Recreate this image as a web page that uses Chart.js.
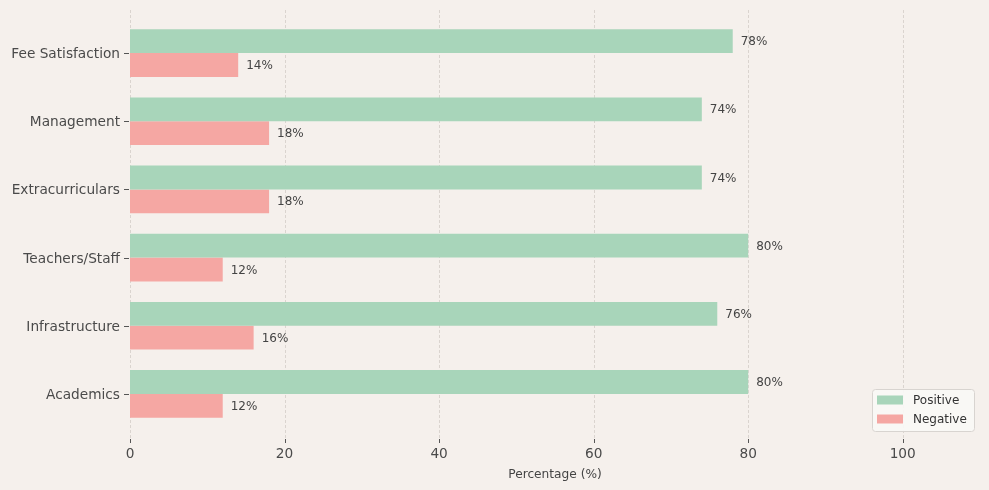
<!DOCTYPE html>
<html><head><meta charset="utf-8">
<script src="https://cdn.jsdelivr.net/npm/chart.js@4"></script>
<style>html,body{margin:0;padding:0;background:#f5f0ec;} #wrap{width:989px;height:490px;position:relative}</style>
</head><body><div id="wrap"><canvas id="c" width="989" height="490"></canvas></div>
<script>
const categories = ['Fee Satisfaction','Management','Extracurriculars','Teachers/Staff','Infrastructure','Academics'];
const positive = [78,74,74,80,76,80];
const negative = [14,18,18,12,16,12];
const xTicks = [0,20,40,60,80,100];
const seriesNames = ['Positive','Negative'];
const seriesColors = ['#a8d5ba','#f5a7a3'];
const FONT = "'DejaVu Sans', sans-serif";

const decor = {
  id: 'decor',
  beforeDatasetsDraw(chart) {
    const ctx = chart.ctx, a = chart.chartArea, xs = chart.scales.x, ys = chart.scales.y;
    ctx.save();
    ctx.strokeStyle = '#d3cdc8'; ctx.lineWidth = 0.8; ctx.setLineDash([3,2]);
    xTicks.forEach(v => {
      const x = Math.round(xs.getPixelForValue(v)) + 0.5;
      ctx.beginPath(); ctx.moveTo(x, a.top - 9); ctx.lineTo(x, a.bottom + 10); ctx.stroke();
    });
    ctx.setLineDash([]); ctx.strokeStyle = '#555'; ctx.lineWidth = 1;
    xTicks.forEach(v => {
      const x = Math.round(xs.getPixelForValue(v)) + 0.5;
      ctx.beginPath(); ctx.moveTo(x, a.bottom + 11); ctx.lineTo(x, a.bottom + 15); ctx.stroke();
    });
    categories.forEach((c, i) => {
      const y = Math.round(ys.getPixelForValue(i)) + 0.5;
      ctx.beginPath(); ctx.moveTo(a.left - 6, y); ctx.lineTo(a.left - 1, y); ctx.stroke();
    });
    ctx.restore();
  },
  afterDatasetsDraw(chart) {
    const ctx = chart.ctx;
    ctx.save();
    ctx.font = '12px ' + FONT; ctx.fillStyle = '#444'; ctx.textBaseline = 'middle'; ctx.textAlign = 'left';
    chart.data.datasets.forEach((ds, di) => {
      chart.getDatasetMeta(di).data.forEach((bar, i) => {
        ctx.fillText(ds.data[i] + '%', bar.x + 8, bar.y + 1);
      });
    });
    // legend
    const lx = 872, ly = 389, lw = 102, lh = 42;
    ctx.beginPath(); ctx.roundRect(lx + 0.5, ly + 0.5, lw, lh, 3);
    ctx.fillStyle = 'rgba(250,248,246,0.9)'; ctx.fill();
    ctx.strokeStyle = '#d8d4d0'; ctx.lineWidth = 1; ctx.stroke();
    ctx.font = '12px ' + FONT;
    seriesNames.forEach((n, i) => {
      const cy = ly + 11 + i * 19;
      ctx.fillStyle = seriesColors[i];
      ctx.fillRect(lx + 5, cy - 4.5, 26, 9);
      ctx.fillStyle = '#333';
      ctx.fillText(n, lx + 41, cy + 0.5);
    });
    ctx.restore();
  }
};

new Chart(document.getElementById('c'), {
  type: 'bar',
  data: {
    labels: categories,
    datasets: [
      { label: seriesNames[0], data: positive, backgroundColor: seriesColors[0], categoryPercentage: 0.7, barPercentage: 1.0 },
      { label: seriesNames[1], data: negative, backgroundColor: seriesColors[1], categoryPercentage: 0.7, barPercentage: 1.0 }
    ]
  },
  options: {
    indexAxis: 'y', responsive: false, animation: false, devicePixelRatio: 1,
    layout: { padding: { top: 19, right: 9, left: 0, bottom: 0 } },
    plugins: { legend: { display: false }, tooltip: { enabled: false } },
    scales: {
      x: {
        min: 0, max: 110,
        afterBuildTicks: s => { s.ticks = xTicks.map(v => ({ value: v })); },
        afterFit: s => { s.height = 62; },
        grid: { display: false, drawTicks: false },
        border: { display: false },
        ticks: { padding: 18, color: '#4a4a4a', font: { family: FONT, size: 13.7 } },
        title: { display: true, text: 'Percentage (%)', color: '#444', font: { family: FONT, size: 12.2 }, padding: { top: 0, bottom: 8 } }
      },
      y: {
        afterFit: s => { s.width = 130; },
        grid: { display: false, drawTicks: false },
        border: { display: false },
        ticks: { padding: 10, labelOffset: 1.5, color: '#4a4a4a', font: { family: FONT, size: 13.7 } }
      }
    }
  },
  plugins: [decor]
});
</script></body></html>
